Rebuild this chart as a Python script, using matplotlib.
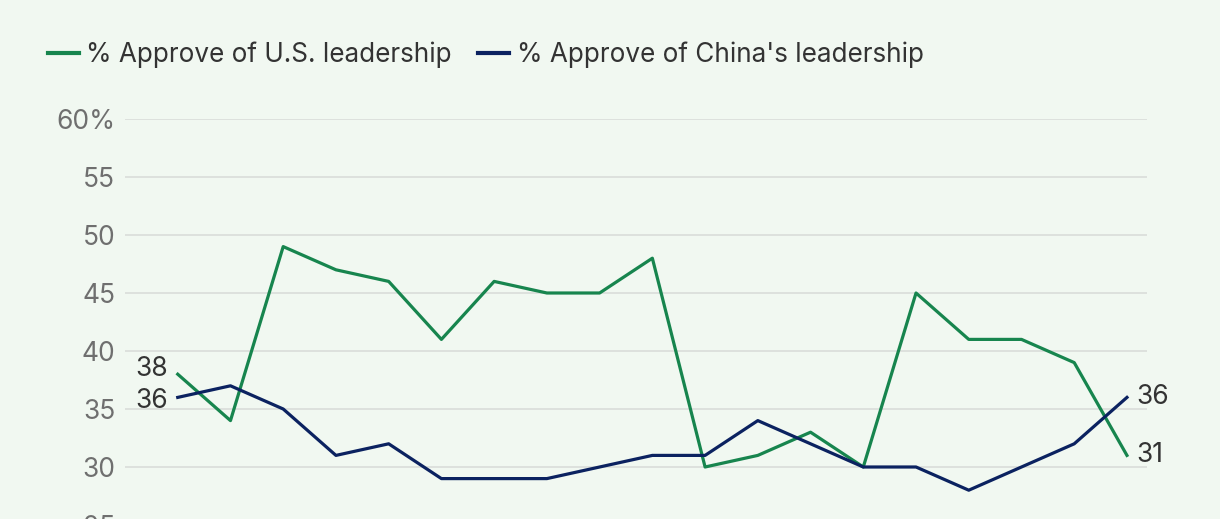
import matplotlib.pyplot as plt

plt.rcParams['font.family'] = ['Inter', 'DejaVu Sans']

# values
us_approve = [38, 34, 49, 47, 46, 41, 46, 45, 45, 48, 30, 31, 33, 30, 45, 41, 41, 39, 31]
china_approve = [36, 37, 35, 31, 32, 29, 29, 29, 30, 31, 31, 34, 32, 30, 30, 28, 30, 32, 36]
y_ticks = [25, 30, 35, 40, 45, 50, 55, 60]
y_labels = ['25', '30', '35', '40', '45', '50', '55', '60%']

bg = '#f1f8f1'
green = '#17854e'
navy = '#0b2260'

fig = plt.figure(figsize=(12.2, 5.19), dpi=100)
fig.patch.set_facecolor(bg)
ax = fig.add_axes([125 / 1220, -6 / 519, 1022 / 1220, 406 / 519])
ax.set_facecolor(bg)

x = list(range(len(us_approve)))
ax.plot(x, us_approve, color=green, lw=2.3, label='% Approve of U.S. leadership')
ax.plot(x, china_approve, color=navy, lw=2.3, label="% Approve of China's leadership")

ax.set_xlim(-1.0, 18.38)
ax.set_ylim(25, 60)
ax.set_yticks(y_ticks)
ax.set_yticklabels(y_labels)
ax.set_xticks([])
ax.grid(axis='y', color='#d9ddd9', lw=1.2)
ax.set_axisbelow(True)
ax.tick_params(axis='y', length=0, pad=7, labelsize=19, labelcolor='#6f6f6f')
for s in ax.spines.values():
    s.set_visible(False)

# end labels
lab = dict(fontsize=19, color='#333333', va='center')
ax.text(x[0] - 0.18, us_approve[0] + 0.45, str(us_approve[0]), ha='right', **lab)
ax.text(x[0] - 0.18, china_approve[0] - 0.3, str(china_approve[0]), ha='right', **lab)
ax.text(x[-1] + 0.18, china_approve[-1] + 0.05, str(china_approve[-1]), ha='left', **lab)
ax.text(x[-1] + 0.18, us_approve[-1] + 0.05, str(us_approve[-1]), ha='left', **lab)

leg = fig.legend(loc='center left', bbox_to_anchor=(48 / 1220, 1 - 55 / 519), ncol=2,
                 frameon=False, fontsize=18.8, handlelength=1.2, handletextpad=0.27,
                 columnspacing=1.0, borderaxespad=0, borderpad=0)
for t in leg.get_texts():
    t.set_color('#333333')
for h in leg.get_lines():
    h.set_linewidth(3)

fig.savefig('out.png', dpi=100, facecolor=bg)
